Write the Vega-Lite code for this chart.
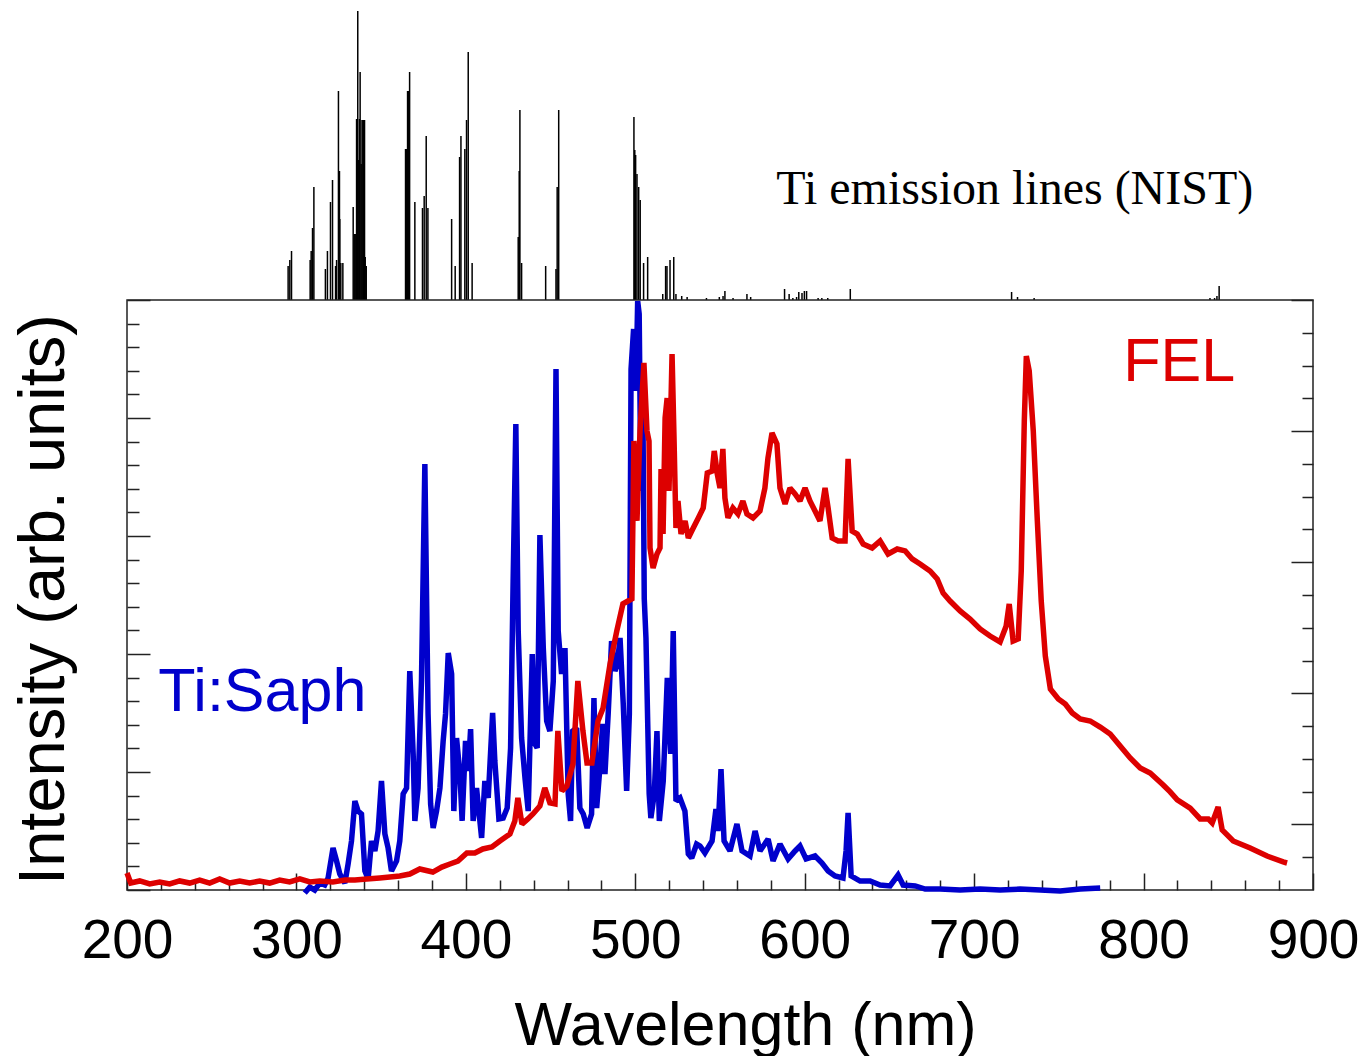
{
  "$schema": "https://vega.github.io/schema/vega-lite/v6.json",
  "padding": {"left": 10, "top": 10, "right": 10, "bottom": 5},
  "spacing": 0,
  "bounds": "flush",
  "config": {
    "font": "Liberation Sans",
    "view": {"stroke": null},
    "axis": {"domain": false, "grid": false, "tickColor": "#222", "tickWidth": 1.5, "labelColor": "#000", "titleColor": "#000", "titleFontWeight": "normal", "labelFont": "Liberation Sans", "titleFont": "Liberation Sans"}
  },
  "vconcat": [
    {
      "width": 1186,
      "height": 289,
      "layer": [
        {
          "data": {"values": [
            {"nm": 295.1, "h": 34}, {"nm": 296.1, "h": 40}, {"nm": 297.1, "h": 49},
            {"nm": 308.1, "h": 40}, {"nm": 308.7, "h": 49}, {"nm": 309.5, "h": 72}, {"nm": 310.3, "h": 113},
            {"nm": 317.1, "h": 31}, {"nm": 318.3, "h": 49},
            {"nm": 320.1, "h": 98}, {"nm": 321.3, "h": 120},
            {"nm": 323.1, "h": 34}, {"nm": 323.7, "h": 40}, {"nm": 324.8, "h": 209}, {"nm": 325.4, "h": 129}, {"nm": 325.6, "h": 81}, {"nm": 326.2, "h": 37}, {"nm": 327.4, "h": 37},
            {"nm": 333.5, "h": 93}, {"nm": 334.1, "h": 66}, {"nm": 334.6, "h": 66}, {"nm": 335.1, "h": 66}, {"nm": 335.5, "h": 181}, {"nm": 335.9, "h": 181}, {"nm": 336.2, "h": 289}, {"nm": 336.8, "h": 140}, {"nm": 337.2, "h": 181}, {"nm": 337.6, "h": 228}, {"nm": 338.2, "h": 136}, {"nm": 338.7, "h": 180}, {"nm": 339.2, "h": 180}, {"nm": 339.7, "h": 180}, {"nm": 340.2, "h": 180}, {"nm": 340.6, "h": 43}, {"nm": 341.2, "h": 34},
            {"nm": 364.4, "h": 151}, {"nm": 364.9, "h": 151}, {"nm": 365.6, "h": 209}, {"nm": 366.2, "h": 209}, {"nm": 366.8, "h": 228},
            {"nm": 369.9, "h": 98}, {"nm": 374.4, "h": 92}, {"nm": 375.4, "h": 104}, {"nm": 376.6, "h": 164}, {"nm": 377.6, "h": 92},
            {"nm": 391.6, "h": 81}, {"nm": 393.7, "h": 34}, {"nm": 396.3, "h": 143}, {"nm": 397.1, "h": 164}, {"nm": 399.4, "h": 151}, {"nm": 400.4, "h": 180}, {"nm": 401.4, "h": 248}, {"nm": 403.7, "h": 37},
            {"nm": 430.9, "h": 63}, {"nm": 431.5, "h": 129}, {"nm": 431.9, "h": 190}, {"nm": 432.9, "h": 37},
            {"nm": 447.1, "h": 34}, {"nm": 453.2, "h": 31}, {"nm": 453.9, "h": 113}, {"nm": 454.8, "h": 190},
            {"nm": 499.2, "h": 183}, {"nm": 499.7, "h": 150}, {"nm": 500.2, "h": 145}, {"nm": 501.0, "h": 126}, {"nm": 502.0, "h": 113}, {"nm": 502.9, "h": 100}, {"nm": 504.9, "h": 37}, {"nm": 507.3, "h": 43},
            {"nm": 516.2, "h": 6}, {"nm": 517.9, "h": 34}, {"nm": 518.7, "h": 34}, {"nm": 520.5, "h": 40}, {"nm": 522.7, "h": 43}, {"nm": 524.0, "h": 6},
            {"nm": 527.4, "h": 4}, {"nm": 530.6, "h": 3}, {"nm": 542.0, "h": 2}, {"nm": 549.6, "h": 3}, {"nm": 551.8, "h": 4}, {"nm": 552.9, "h": 9}, {"nm": 557.7, "h": 2}, {"nm": 565.9, "h": 6}, {"nm": 568.1, "h": 3},
            {"nm": 588.1, "h": 11}, {"nm": 590.8, "h": 6}, {"nm": 593.0, "h": 2}, {"nm": 595.2, "h": 3}, {"nm": 596.5, "h": 8}, {"nm": 598.4, "h": 7}, {"nm": 599.8, "h": 9}, {"nm": 601.1, "h": 9},
            {"nm": 607.9, "h": 2}, {"nm": 610.1, "h": 2}, {"nm": 613.6, "h": 2}, {"nm": 626.9, "h": 11},
            {"nm": 722.1, "h": 8}, {"nm": 725.6, "h": 3}, {"nm": 735.4, "h": 2},
            {"nm": 839.2, "h": 2}, {"nm": 841.9, "h": 2}, {"nm": 843.3, "h": 4}, {"nm": 844.6, "h": 14}
          ]},
          "mark": {"type": "rule", "color": "#000", "strokeWidth": 1.5},
          "encoding": {
            "x": {"field": "nm", "type": "quantitative", "scale": {"domain": [200, 900], "nice": false, "zero": false}, "axis": null},
            "y": {"field": "h", "type": "quantitative", "scale": {"domain": [0, 289], "nice": false}, "axis": null},
            "y2": {"datum": 0}
          }
        },
        {
          "data": {"values": [{"nm": 724, "h": 96, "label": "Ti emission lines (NIST)"}]},
          "mark": {"type": "text", "font": "Liberation Serif", "fontSize": 48, "align": "center", "baseline": "alphabetic", "color": "#000"},
          "encoding": {
            "x": {"field": "nm", "type": "quantitative"},
            "y": {"field": "h", "type": "quantitative"},
            "text": {"field": "label"}
          }
        }
      ]
    },
    {
      "width": 1186,
      "height": 590,
      "view": {"stroke": "#222", "strokeWidth": 1.5},
      "layer": [
        {
          "data": {"values": [
            {"nm": 304.9, "v": -0.025}, {"nm": 307.9, "v": 0.025}, {"nm": 310.8, "v": 0}, {"nm": 313.8, "v": 0.059}, {"nm": 316.7, "v": 0.042}, {"nm": 318.7, "v": 0.102}, {"nm": 321.6, "v": 0.356}, {"nm": 323.7, "v": 0.246}, {"nm": 325.6, "v": 0.136}, {"nm": 328.6, "v": 0.059},
            {"nm": 330.5, "v": 0.22}, {"nm": 332.5, "v": 0.415}, {"nm": 334.5, "v": 0.754}, {"nm": 336.4, "v": 0.669}, {"nm": 338.4, "v": 0.644}, {"nm": 340.4, "v": 0.161}, {"nm": 342.3, "v": 0.093}, {"nm": 344.3, "v": 0.415}, {"nm": 346.3, "v": 0.331}, {"nm": 348.2, "v": 0.5},
            {"nm": 350.2, "v": 0.924}, {"nm": 352.2, "v": 0.475}, {"nm": 354.1, "v": 0.356}, {"nm": 356.1, "v": 0.161}, {"nm": 359.1, "v": 0.246}, {"nm": 361.0, "v": 0.415}, {"nm": 363.0, "v": 0.814}, {"nm": 365.0, "v": 0.864}, {"nm": 366.9, "v": 1.856}, {"nm": 368.9, "v": 1.153},
            {"nm": 369.9, "v": 0.585}, {"nm": 371.8, "v": 0.864}, {"nm": 373.8, "v": 1.771}, {"nm": 375.8, "v": 3.61}, {"nm": 377.7, "v": 1.492}, {"nm": 379.2, "v": 0.729}, {"nm": 380.7, "v": 0.525}, {"nm": 382.7, "v": 0.669}, {"nm": 384.7, "v": 0.864}, {"nm": 386.6, "v": 1.263},
            {"nm": 388.0, "v": 1.492}, {"nm": 389.6, "v": 2.008}, {"nm": 391.6, "v": 1.831}, {"nm": 392.9, "v": 0.669}, {"nm": 394.5, "v": 1.288}, {"nm": 396.5, "v": 0.983}, {"nm": 397.8, "v": 0.585}, {"nm": 399.8, "v": 1.263}, {"nm": 401.4, "v": 1.008}, {"nm": 402.8, "v": 1.364},
            {"nm": 404.3, "v": 0.585}, {"nm": 406.3, "v": 0.864}, {"nm": 409.3, "v": 0.441}, {"nm": 411.2, "v": 0.924}, {"nm": 413.2, "v": 0.78}, {"nm": 415.8, "v": 1.5}, {"nm": 417.1, "v": 1.093}, {"nm": 419.5, "v": 0.602}, {"nm": 422.0, "v": 0.61}, {"nm": 424.4, "v": 0.695},
            {"nm": 426.4, "v": 1.203}, {"nm": 427.9, "v": 2.619}, {"nm": 429.5, "v": 3.949}, {"nm": 430.9, "v": 2.195}, {"nm": 432.9, "v": 1.288}, {"nm": 434.9, "v": 0.949}, {"nm": 436.8, "v": 0.669}, {"nm": 439.2, "v": 2.0}, {"nm": 440.8, "v": 1.237}, {"nm": 442.1, "v": 1.203},
            {"nm": 443.7, "v": 3.008}, {"nm": 445.7, "v": 2.051}, {"nm": 447.7, "v": 1.432}, {"nm": 449.6, "v": 1.347}, {"nm": 451.6, "v": 1.771}, {"nm": 453.2, "v": 4.415}, {"nm": 454.5, "v": 2.195}, {"nm": 456.5, "v": 1.831}, {"nm": 458.5, "v": 2.051}, {"nm": 460.4, "v": 0.814},
            {"nm": 461.8, "v": 0.585}, {"nm": 463.0, "v": 1.347}, {"nm": 465.4, "v": 1.373}, {"nm": 467.3, "v": 0.695}, {"nm": 469.3, "v": 0.644}, {"nm": 471.6, "v": 0.525}, {"nm": 474.2, "v": 0.644}, {"nm": 475.6, "v": 1.627}, {"nm": 477.2, "v": 0.695}, {"nm": 479.1, "v": 1.034},
            {"nm": 480.7, "v": 1.407}, {"nm": 482.1, "v": 0.983}, {"nm": 484.0, "v": 1.492}, {"nm": 486.0, "v": 2.11}, {"nm": 488.0, "v": 1.856}, {"nm": 489.4, "v": 1.915}, {"nm": 491.0, "v": 2.136}, {"nm": 492.9, "v": 1.576}, {"nm": 494.9, "v": 0.839}, {"nm": 496.5, "v": 1.492},
            {"nm": 497.5, "v": 4.415}, {"nm": 499.0, "v": 4.754}, {"nm": 500.4, "v": 4.229}, {"nm": 501.4, "v": 4.992}, {"nm": 502.3, "v": 4.881}, {"nm": 503.3, "v": 3.381}, {"nm": 504.3, "v": 4.466}, {"nm": 505.3, "v": 2.466}, {"nm": 506.3, "v": 2.136}, {"nm": 508.2, "v": 0.814},
            {"nm": 509.2, "v": 0.61}, {"nm": 511.2, "v": 0.814}, {"nm": 512.8, "v": 1.347}, {"nm": 514.2, "v": 0.585}, {"nm": 516.5, "v": 0.924}, {"nm": 518.9, "v": 1.797}, {"nm": 520.9, "v": 1.153}, {"nm": 522.4, "v": 2.195}, {"nm": 524.0, "v": 0.754}, {"nm": 526.4, "v": 0.78},
            {"nm": 529.3, "v": 0.669}, {"nm": 531.3, "v": 0.305}, {"nm": 533.3, "v": 0.271}, {"nm": 536.2, "v": 0.39}, {"nm": 538.2, "v": 0.373}, {"nm": 541.1, "v": 0.314}, {"nm": 545.3, "v": 0.415}, {"nm": 547.6, "v": 0.686}, {"nm": 548.8, "v": 0.5}, {"nm": 550.6, "v": 1.025},
            {"nm": 552.4, "v": 0.415}, {"nm": 555.9, "v": 0.331}, {"nm": 560.0, "v": 0.559}, {"nm": 563.0, "v": 0.331}, {"nm": 567.7, "v": 0.288}, {"nm": 570.7, "v": 0.5}, {"nm": 573.6, "v": 0.331}, {"nm": 578.4, "v": 0.432}, {"nm": 581.3, "v": 0.246}, {"nm": 585.4, "v": 0.39},
            {"nm": 590.2, "v": 0.263}, {"nm": 594.3, "v": 0.331}, {"nm": 597.2, "v": 0.373}, {"nm": 600.8, "v": 0.263}, {"nm": 606.1, "v": 0.288}, {"nm": 610.2, "v": 0.229}, {"nm": 613.8, "v": 0.161}, {"nm": 617.9, "v": 0.119}, {"nm": 622.6, "v": 0.102}, {"nm": 624.4, "v": 0.331},
            {"nm": 625.6, "v": 0.653}, {"nm": 627.4, "v": 0.119}, {"nm": 632.7, "v": 0.076}, {"nm": 638.6, "v": 0.076}, {"nm": 644.5, "v": 0.042}, {"nm": 650.4, "v": 0.034}, {"nm": 655.1, "v": 0.127}, {"nm": 658.1, "v": 0.042}, {"nm": 665.2, "v": 0.034}, {"nm": 671.1, "v": 0.008},
            {"nm": 679.9, "v": 0.008}, {"nm": 691.7, "v": 0}, {"nm": 703.5, "v": 0.008}, {"nm": 715.3, "v": 0}, {"nm": 727.1, "v": 0.008}, {"nm": 739.0, "v": 0}, {"nm": 750.8, "v": -0.008}, {"nm": 762.6, "v": 0.008}, {"nm": 774.4, "v": 0.017}
          ]},
          "mark": {"type": "line", "color": "#0000cc", "strokeWidth": 5.5, "strokeJoin": "miter", "strokeMiterLimit": 2},
          "encoding": {
            "x": {
              "field": "nm", "type": "quantitative",
              "scale": {"domain": [200, 900], "nice": false, "zero": false},
              "axis": {
                "values": [200, 220, 240, 260, 280, 300, 320, 340, 360, 380, 400, 420, 440, 460, 480, 500, 520, 540, 560, 580, 600, 620, 640, 660, 680, 700, 720, 740, 760, 780, 800, 820, 840, 860, 880, 900],
                "tickCount": 200,
                "labelExpr": "datum.value % 100 === 0 ? datum.label : ''",
                "tickSize": {"condition": {"test": "datum.value % 100 === 0", "value": -17}, "value": -10},
                "labelPadding": 41,
                "labelFontSize": 55,
                "labelFlush": false,
                "labelOverlap": false,
                "labelBound": false,
                "title": "Wavelength (nm)",
                "titleFontSize": 61,
                "titleX": 618,
                "titleY": 154,
                "titleBaseline": "alphabetic"
              }
            },
            "y": {
              "field": "v", "type": "quantitative",
              "scale": {"domain": [0, 5], "nice": false, "zero": false},
              "axis": {
                "orient": "left",
                "values": [0, 0.2, 0.4, 0.6, 0.8, 1, 1.2, 1.4, 1.6, 1.8, 2, 2.2, 2.4, 2.6, 2.8, 3, 3.2, 3.4, 3.6, 3.8, 4, 4.2, 4.4, 4.6, 4.8, 5],
                "tickCount": 200,
                "labels": false,
                "tickSize": {"condition": {"test": "abs(datum.value - round(datum.value)) < 0.01", "value": -23}, "value": -12},
                "title": "Intensity (arb. units)",
                "titleFontSize": 65,
                "titleX": -64,
                "titleY": 299,
                "titleBaseline": "alphabetic"
              }
            }
          }
        },
        {
          "data": {"values": [
            {"nm": 200.0, "v": -0.37}, {"nm": 202.2, "v": -0.447}, {"nm": 207.5, "v": -0.431}, {"nm": 213.4, "v": -0.454}, {"nm": 219.3, "v": -0.439}, {"nm": 225.2, "v": -0.454}, {"nm": 231.1, "v": -0.431}, {"nm": 237.0, "v": -0.447}, {"nm": 242.9, "v": -0.424}, {"nm": 248.8, "v": -0.447},
            {"nm": 254.7, "v": -0.416}, {"nm": 260.6, "v": -0.447}, {"nm": 266.5, "v": -0.431}, {"nm": 272.4, "v": -0.447}, {"nm": 278.3, "v": -0.431}, {"nm": 284.2, "v": -0.447}, {"nm": 290.1, "v": -0.424}, {"nm": 296.0, "v": -0.439}, {"nm": 302.0, "v": -0.416}, {"nm": 307.9, "v": -0.439},
            {"nm": 313.8, "v": -0.431}, {"nm": 321.5, "v": -0.439}, {"nm": 328.6, "v": -0.424}, {"nm": 334.5, "v": -0.424}, {"nm": 341.5, "v": -0.416}, {"nm": 349.2, "v": -0.408}, {"nm": 355.1, "v": -0.401}, {"nm": 361.0, "v": -0.393}, {"nm": 366.9, "v": -0.378}, {"nm": 372.8, "v": -0.34},
            {"nm": 380.5, "v": -0.363}, {"nm": 385.8, "v": -0.325}, {"nm": 390.6, "v": -0.302}, {"nm": 395.3, "v": -0.279}, {"nm": 400.6, "v": -0.218}, {"nm": 405.3, "v": -0.218}, {"nm": 410.0, "v": -0.187}, {"nm": 415.4, "v": -0.172}, {"nm": 420.1, "v": -0.126}, {"nm": 426.0, "v": -0.073},
            {"nm": 428.9, "v": 0.026}, {"nm": 430.7, "v": 0.202}, {"nm": 433.1, "v": 0.003}, {"nm": 436.6, "v": 0.042}, {"nm": 439.6, "v": 0.08}, {"nm": 443.7, "v": 0.141}, {"nm": 446.6, "v": 0.278}, {"nm": 449.6, "v": 0.164}, {"nm": 452.6, "v": 0.156}, {"nm": 454.3, "v": 0.713},
            {"nm": 456.7, "v": 0.255}, {"nm": 459.6, "v": 0.293}, {"nm": 463.2, "v": 0.461}, {"nm": 466.1, "v": 1.094}, {"nm": 469.1, "v": 0.713}, {"nm": 471.5, "v": 0.469}, {"nm": 474.4, "v": 0.469}, {"nm": 478.0, "v": 0.789}, {"nm": 481.0, "v": 0.888}, {"nm": 485.1, "v": 1.224},
            {"nm": 489.1, "v": 1.476}, {"nm": 492.7, "v": 1.682}, {"nm": 495.7, "v": 1.704}, {"nm": 498.0, "v": 1.72}, {"nm": 499.2, "v": 2.925}, {"nm": 501.0, "v": 2.315}, {"nm": 502.8, "v": 3.001}, {"nm": 505.1, "v": 3.52}, {"nm": 506.9, "v": 3.001}, {"nm": 508.1, "v": 2.925},
            {"nm": 508.7, "v": 2.109}, {"nm": 510.5, "v": 1.956}, {"nm": 512.8, "v": 2.063}, {"nm": 514.6, "v": 2.109}, {"nm": 515.2, "v": 2.711}, {"nm": 516.4, "v": 2.215}, {"nm": 517.6, "v": 3.1}, {"nm": 518.8, "v": 3.253}, {"nm": 519.9, "v": 2.543}, {"nm": 521.7, "v": 3.588},
            {"nm": 522.9, "v": 2.925}, {"nm": 524.0, "v": 2.261}, {"nm": 525.2, "v": 2.467}, {"nm": 527.0, "v": 2.215}, {"nm": 529.4, "v": 2.315}, {"nm": 531.3, "v": 2.185}, {"nm": 534.2, "v": 2.261}, {"nm": 537.2, "v": 2.338}, {"nm": 540.1, "v": 2.414}, {"nm": 542.5, "v": 2.681},
            {"nm": 545.4, "v": 2.696}, {"nm": 546.6, "v": 2.849}, {"nm": 548.4, "v": 2.673}, {"nm": 550.0, "v": 2.566}, {"nm": 551.7, "v": 2.864}, {"nm": 552.9, "v": 2.49}, {"nm": 554.7, "v": 2.338}, {"nm": 557.6, "v": 2.414}, {"nm": 560.6, "v": 2.368}, {"nm": 563.5, "v": 2.467},
            {"nm": 565.9, "v": 2.368}, {"nm": 569.5, "v": 2.338}, {"nm": 573.6, "v": 2.391}, {"nm": 576.5, "v": 2.566}, {"nm": 578.3, "v": 2.795}, {"nm": 580.7, "v": 2.986}, {"nm": 583.6, "v": 2.902}, {"nm": 585.4, "v": 2.566}, {"nm": 588.4, "v": 2.444}, {"nm": 591.3, "v": 2.566},
            {"nm": 594.3, "v": 2.521}, {"nm": 597.2, "v": 2.467}, {"nm": 600.2, "v": 2.566}, {"nm": 603.1, "v": 2.467}, {"nm": 606.1, "v": 2.391}, {"nm": 609.0, "v": 2.315}, {"nm": 612.0, "v": 2.566}, {"nm": 613.8, "v": 2.414}, {"nm": 616.2, "v": 2.185}, {"nm": 619.7, "v": 2.162},
            {"nm": 623.8, "v": 2.162}, {"nm": 625.6, "v": 2.788}, {"nm": 628.0, "v": 2.238}, {"nm": 631.0, "v": 2.215}, {"nm": 634.5, "v": 2.139}, {"nm": 639.8, "v": 2.109}, {"nm": 644.5, "v": 2.162}, {"nm": 649.2, "v": 2.063}, {"nm": 654.6, "v": 2.101}, {"nm": 659.3, "v": 2.086},
            {"nm": 663.4, "v": 2.025}, {"nm": 668.1, "v": 1.987}, {"nm": 674.0, "v": 1.933}, {"nm": 678.2, "v": 1.872}, {"nm": 681.7, "v": 1.765}, {"nm": 685.8, "v": 1.704}, {"nm": 691.7, "v": 1.628}, {"nm": 697.6, "v": 1.567}, {"nm": 703.5, "v": 1.491}, {"nm": 709.4, "v": 1.437},
            {"nm": 715.3, "v": 1.392}, {"nm": 718.9, "v": 1.514}, {"nm": 720.7, "v": 1.682}, {"nm": 723.0, "v": 1.399}, {"nm": 726.0, "v": 1.415}, {"nm": 727.8, "v": 1.933}, {"nm": 729.6, "v": 3.077}, {"nm": 730.8, "v": 3.573}, {"nm": 732.5, "v": 3.459}, {"nm": 734.9, "v": 3.001},
            {"nm": 737.3, "v": 2.315}, {"nm": 739.6, "v": 1.704}, {"nm": 742.0, "v": 1.285}, {"nm": 745.0, "v": 1.033}, {"nm": 749.7, "v": 0.957}, {"nm": 753.8, "v": 0.919}, {"nm": 757.9, "v": 0.85}, {"nm": 762.6, "v": 0.804}, {"nm": 768.5, "v": 0.789}, {"nm": 774.4, "v": 0.743},
            {"nm": 780.3, "v": 0.69}, {"nm": 786.2, "v": 0.598}, {"nm": 792.1, "v": 0.507}, {"nm": 798.0, "v": 0.431}, {"nm": 803.9, "v": 0.392}, {"nm": 811.6, "v": 0.301}, {"nm": 815.7, "v": 0.248}, {"nm": 819.9, "v": 0.187}, {"nm": 827.5, "v": 0.125}, {"nm": 833.4, "v": 0.042},
            {"nm": 838.2, "v": 0.042}, {"nm": 840.5, "v": 0.011}, {"nm": 844.0, "v": 0.133}, {"nm": 846.4, "v": -0.042}, {"nm": 852.9, "v": -0.126}, {"nm": 862.9, "v": -0.18}, {"nm": 872.9, "v": -0.241}, {"nm": 882.4, "v": -0.286}, {"nm": 884.7, "v": -0.294}
          ]},
          "mark": {"type": "line", "color": "#dd0000", "strokeWidth": 5.5, "strokeJoin": "miter", "strokeMiterLimit": 2},
          "encoding": {
            "x": {"field": "nm", "type": "quantitative"},
            "y": {
              "field": "v", "type": "quantitative",
              "scale": {"domain": [-0.5, 4], "nice": false, "zero": false},
              "axis": {
                "orient": "right",
                "values": [-0.25, 0, 0.25, 0.5, 0.75, 1, 1.25, 1.5, 1.75, 2, 2.25, 2.5, 2.75, 3, 3.25, 3.5, 3.75, 4],
                "tickCount": 200,
                "labels": false,
                "tickSize": {"condition": {"test": "datum.value % 1 === 0", "value": -22}, "value": -11},
                "title": null
              }
            }
          }
        },
        {
          "data": {"values": [{"nm": 218.5, "v": 1.52, "label": "Ti:Saph"}]},
          "mark": {"type": "text", "color": "#0000cc", "fontSize": 61, "font": "Liberation Sans", "align": "left", "baseline": "alphabetic"},
          "encoding": {
            "x": {"field": "nm", "type": "quantitative"},
            "y": {"field": "v", "type": "quantitative", "scale": {"domain": [0, 5], "nice": false, "zero": false}, "axis": null},
            "text": {"field": "label"}
          }
        },
        {
          "data": {"values": [{"nm": 788.0, "v": 4.314, "label": "FEL"}]},
          "mark": {"type": "text", "color": "#dd0000", "fontSize": 61, "font": "Liberation Sans", "align": "left", "baseline": "alphabetic"},
          "encoding": {
            "x": {"field": "nm", "type": "quantitative"},
            "y": {"field": "v", "type": "quantitative", "scale": {"domain": [0, 5], "nice": false, "zero": false}, "axis": null},
            "text": {"field": "label"}
          }
        }
      ],
      "resolve": {"scale": {"y": "independent"}}
    }
  ]
}
